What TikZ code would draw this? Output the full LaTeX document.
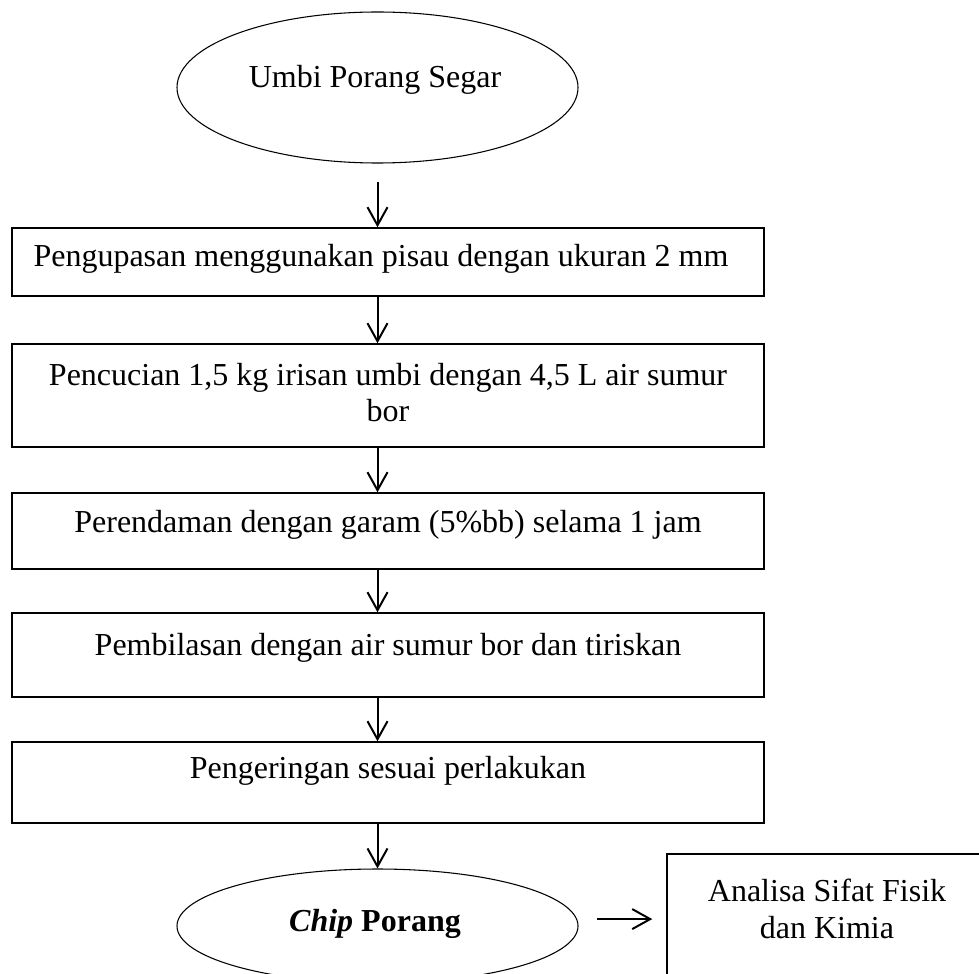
\documentclass[tikz,border=0pt]{standalone}
\usepackage{fontspec}
\setmainfont{Liberation Serif}
\usetikzlibrary{arrows.meta,shapes.geometric}
\newlength\pxu
\setlength\pxu{0.375pt}
\tikzset{
  boxstyle/.style={draw, line width=0.55pt, rectangle, inner sep=0pt, minimum width=752*\pxu},
  ellstyle/.style={draw, line width=0.4pt, ellipse, inner sep=0pt, minimum width=401*\pxu},
  txt/.style={font=\fontsize{12}{13.8}\selectfont, inner sep=0pt, anchor=base},
  mtxt/.style={font=\fontsize{12}{13.8}\selectfont, inner sep=0pt, align=center},
  arr/.style={line width=0.75pt, -{Straight Barb[length=6.75pt,width=7.5pt]}}
}
\begin{document}
\begin{tikzpicture}[x=0.375pt,y=-0.375pt]
\useasboundingbox (0,0) rectangle (979,973);
\clip (0,0) rectangle (979,973);
\node[ellstyle, minimum height=151*\pxu] (e1) at (377.5,87.5) {};
\node[txt] (t1) at (375,88) {Umbi Porang Segar};
\node[boxstyle, minimum height=68*\pxu] (b1) at (388,262) {};
\node[txt] (t2) at (381,266) {Pengupasan menggunakan pisau dengan ukuran 2 mm};
\node[boxstyle, minimum height=103*\pxu] (b2) at (388,395.5) {};
\node[mtxt] (t3) at (388,392.5) {Pencucian 1,5 kg irisan umbi dengan 4,5 L air sumur\\bor};
\node[boxstyle, minimum height=76*\pxu] (b3) at (388,531) {};
\node[txt] (t4) at (388,532) {Perendaman dengan garam (5\%bb) selama 1 jam};
\node[boxstyle, minimum height=84*\pxu] (b4) at (388,655) {};
\node[txt] (t5) at (388,655) {Pembilasan dengan air sumur bor dan tiriskan};
\node[boxstyle, minimum height=81*\pxu] (b5) at (388,782.5) {};
\node[txt] (t6) at (388,778) {Pengeringan sesuai perlakukan};
\node[ellstyle, minimum height=114*\pxu] (e2) at (377.5,926) {};
\node[txt] (t7) at (375,931) {\textbf{\textit{Chip} Porang}};
\node[boxstyle, minimum width=340*\pxu, minimum height=160*\pxu] (r) at (837,934) {};
\node[mtxt] (t8) at (827,909) {Analisa Sifat Fisik\\dan Kimia};
\draw[arr, shorten <=7.1pt] (e1.south) -- (e1.south |- b1.north);
\draw[arr] (b1.south -| e1.south) -- (b2.north -| e1.south);
\draw[arr] (b2.south -| e1.south) -- (b3.north -| e1.south);
\draw[arr] (b3.south -| e1.south) -- (b4.north -| e1.south);
\draw[arr] (b4.south -| e1.south) -- (b5.north -| e1.south);
\draw[arr] (b5.south -| e1.south) -- (e2.north);
\draw[arr, shorten <=7.1pt, shorten >=5.25pt] ([yshift=2.6pt]e2.east) -- ([yshift=2.6pt]e2.east -| r.west);
\end{tikzpicture}
\end{document}
